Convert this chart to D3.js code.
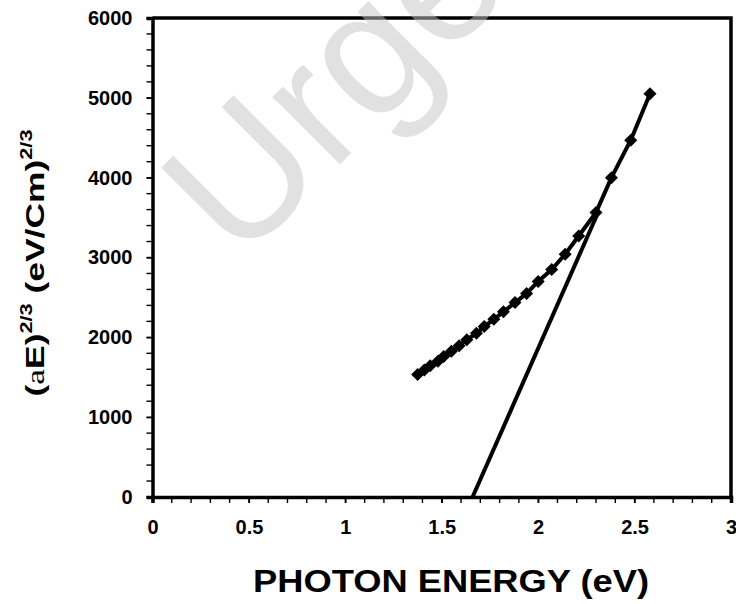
<!DOCTYPE html>
<html>
<head>
<meta charset="utf-8">
<script src="https://cdn.jsdelivr.net/npm/d3@7"></script>
<style>
  body { margin: 0; background: #fff; }
  svg { display: block; font-family: "Liberation Sans", Arial, sans-serif; }
</style>
</head>
<body>
<div id="chart"></div>
<script>
/* Data. */
const photonEnergy = [2.58, 2.48, 2.38, 2.30, 2.21, 2.14, 2.07, 2.00, 1.94, 1.88, 1.82,
  1.77, 1.72, 1.68, 1.63, 1.59, 1.55, 1.51, 1.48, 1.44, 1.41, 1.375]
const absorption = [5050, 4470, 4000, 3565, 3270, 3040, 2850, 2700, 2550, 2435, 2320,
  2225, 2135, 2050, 1970, 1895, 1825, 1760, 1700, 1645, 1590, 1535]
const tangentX = [1.66, 2.31]
const tangentY = [0, 3560]
const xTicks = [0, 0.5, 1, 1.5, 2, 2.5, 3]
const yTicks = [0, 1000, 2000, 3000, 4000, 5000, 6000]

/* Define svg-size. */
const width = 736
const height = 604

/* Create svg-element. */
const svg = d3.select("#chart")
  .append("svg")
  .attr("width", width)
  .attr("height", height)

/* Define scales. */
const x = d3.scaleLinear().domain([0, 3]).range([152.5, 731])
const y = d3.scaleLinear().domain([0, 6000]).range([497, 18])

/* Frame on top and right. */
svg.append("path")
  .attr("d", `M${x(0)},${y(6000)}H${x(3)}V${y(0)}`)
  .attr("fill", "none")
  .attr("stroke", "#000")
  .attr("stroke-width", 3.5)

/* Minor ticks. */
svg.append("g")
  .selectAll("line")
  .data(d3.range(0, 6001, 200))
  .enter()
  .append("line")
  .attr("x1", x(0) - 6)
  .attr("x2", x(0))
  .attr("y1", d => y(d))
  .attr("y2", d => y(d))
  .attr("stroke", "#000")
  .attr("stroke-width", 1.4)

svg.append("g")
  .selectAll("line")
  .data(d3.range(0, 31).map(i => i / 10))
  .enter()
  .append("line")
  .attr("x1", d => x(d))
  .attr("x2", d => x(d))
  .attr("y1", y(0))
  .attr("y2", y(0) + 6)
  .attr("stroke", "#000")
  .attr("stroke-width", 1.4)

/* Axes. */
const xAxis = svg.append("g")
  .attr("transform", `translate(0,${y(0)})`)
  .call(d3.axisBottom(x).tickValues(xTicks).tickSize(6).tickPadding(17).tickFormat(d3.format("")))
xAxis.select(".domain").attr("stroke-width", 3.5)

const yAxis = svg.append("g")
  .attr("transform", `translate(${x(0)},0)`)
  .call(d3.axisLeft(y).tickValues(yTicks).tickSize(6).tickPadding(14).tickFormat(d3.format("")))
yAxis.select(".domain").attr("stroke-width", 3.5)

svg.selectAll(".tick line").attr("stroke-width", 1.4)
svg.selectAll(".tick text")
  .attr("font-family", "Liberation Sans, Arial, sans-serif")
  .attr("font-size", 20)
  .attr("font-weight", "bold")
  .attr("fill", "#000")

/* Tangent line. */
svg.append("line")
  .attr("x1", x(tangentX[0]))
  .attr("y1", y(tangentY[0]))
  .attr("x2", x(tangentX[1]))
  .attr("y2", y(tangentY[1]))
  .attr("stroke", "#000")
  .attr("stroke-width", 4)

/* Data line and diamonds. */
const points = photonEnergy.map((e, i) => ({ e: e, v: absorption[i] }))

svg.append("path")
  .datum(points)
  .attr("fill", "none")
  .attr("stroke", "#000")
  .attr("stroke-width", 4)
  .attr("d", d3.line().x(d => x(d.e)).y(d => y(d.v)))

const r = 6.5
svg.append("g")
  .selectAll("path")
  .data(points)
  .enter()
  .append("path")
  .attr("d", d => `M${x(d.e)},${y(d.v) - r}L${x(d.e) + r},${y(d.v)}L${x(d.e)},${y(d.v) + r}L${x(d.e) - r},${y(d.v)}Z`)
  .attr("fill", "#000")

/* Axis titles. */
svg.append("text")
  .attr("x", 451)
  .attr("y", 592)
  .attr("text-anchor", "middle")
  .attr("font-size", 31)
  .attr("font-weight", "bold")
  .attr("textLength", 396)
  .attr("lengthAdjust", "spacingAndGlyphs")
  .text("PHOTON ENERGY (eV)")

const yTitle = svg.append("text")
  .attr("transform", "translate(44,263) rotate(-90)")
  .attr("text-anchor", "middle")
  .attr("font-size", 26)
  .attr("font-weight", "bold")
  .attr("textLength", 267)
  .attr("lengthAdjust", "spacingAndGlyphs")
yTitle.append("tspan").text("(")
yTitle.append("tspan").attr("font-family", "Liberation Serif, serif").attr("font-weight", "normal").text("a")
yTitle.append("tspan").text("E)")
yTitle.append("tspan").attr("font-size", 16).attr("dy", -12).text("2/3")
yTitle.append("tspan").attr("dy", 12).text(" (eV/Cm)")
yTitle.append("tspan").attr("font-size", 16).attr("dy", -12).text("2/3")

/* Watermark, cut off at the top edge as in the source. */
svg.append("text")
  .attr("transform", "translate(239,265) rotate(-45)")
  .attr("font-size", 180)
  .attr("fill", "#c4c4c4")
  .attr("fill-opacity", 0.5)
  .text("Urge")
</script>
</body>
</html>
